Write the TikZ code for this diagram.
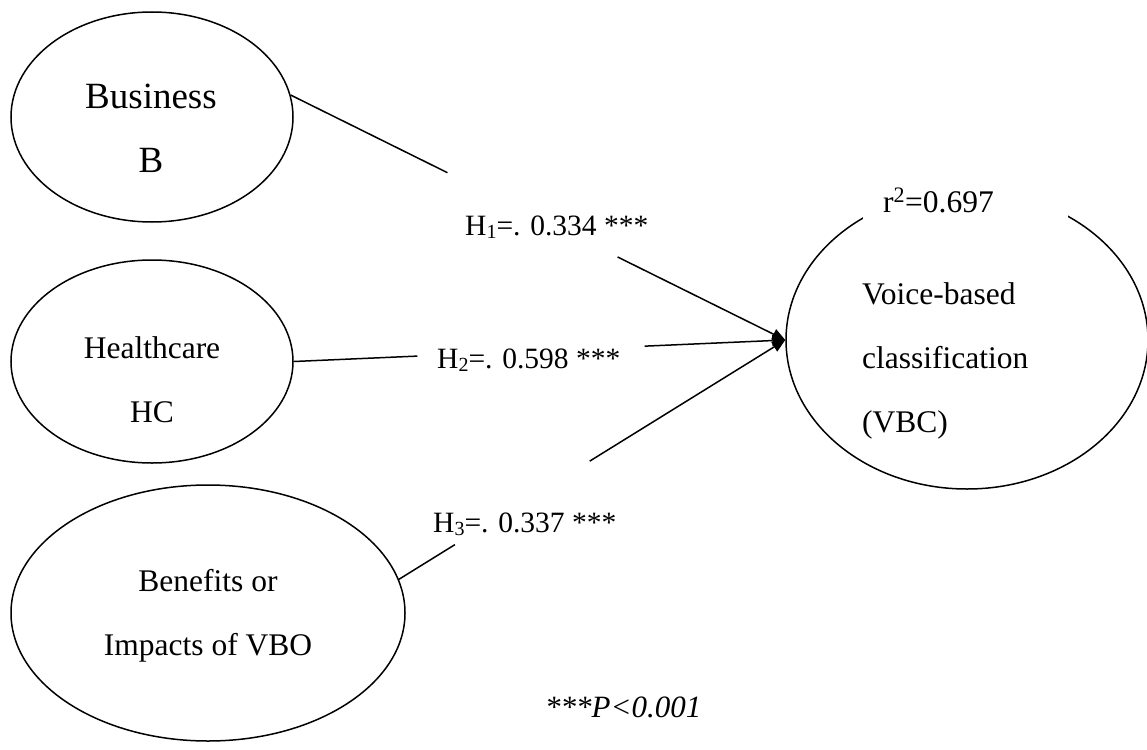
\documentclass[tikz,border=0pt]{standalone}
\usepackage{fontspec}
\setmainfont{Liberation Serif}
\usetikzlibrary{calc,arrows.meta,positioning,shapes.geometric}
\newcommand{\hsub}[1]{\raisebox{-0.12em}{\fontsize{20}{20}\selectfont #1}}
\tikzset{
  construct/.style={draw=black, line width=1.5pt, ellipse, inner sep=0pt},
  caption/.style={font=\fontsize{31.5}{64}\selectfont, align=center, inner sep=0pt, anchor=base},
  link/.style={line width=1.5pt},
  effect/.style={link, -{Triangle[length=13pt, width=11pt]}},
  coef/.style={font=\fontsize{29.5}{36}\selectfont, anchor=base west, inner sep=0pt}
}

\begin{document}
\begin{tikzpicture}[x=1pt, y=-1pt]
  \useasboundingbox (0,0) rectangle (1147,749);
  % constructs
  \node[construct, minimum width=282pt, minimum height=210pt] (B) at (152,117) {};
  \node[construct, minimum width=282pt, minimum height=203pt] (HC) at (152,361.5) {};
  \node[construct, minimum width=394pt, minimum height=256pt] (BI) at (208,613) {};
  \node[construct, minimum width=362pt, minimum height=298pt] (VBC) at (967,340) {};
  % base of a multi-line caption = last line
  \node[caption, font=\fontsize{37}{64}\selectfont] (Btext) at (151,172) {Business\\B};
  \node[caption] (HCtext) at (152,422) {Healthcare\\HC};
  \node[caption] (BItext) at (208,655) {Benefits or\\Impacts of VBO};
  \node[caption, align=left, anchor=base west] (VBCtext) at (862,432) {Voice-based\\classification\\(VBC)};
  \node[fill=white, font=\fontsize{31.5}{36}\selectfont, text width=165pt, align=left, inner xsep=20pt,
        inner ysep=0pt, text height=29pt, text depth=10pt, anchor=base west] (rsq) at (863,212) {r\textsuperscript{2}=0.697};
  % path coefficients
  \node[coef] (H1) at (465,235) {H\hsub{1}=. 0.334 ***};
  \node[coef] (H2) at (437,368) {H\hsub{2}=. 0.598 ***};
  \node[coef] (H3) at (433,532) {H\hsub{3}=. 0.337 ***};
  \coordinate (h1a) at ($(B.9)!0.317!(VBC.west)$);
  \coordinate (h1b) at ($(B.9)!0.661!(VBC.west)$);
  \coordinate (h2a) at ($(HC.east)!0.2515!(VBC.west)$);
  \coordinate (h2b) at ($(HC.east)!0.714!(VBC.west)$);
  \coordinate (h3a) at ($(BI.10)!0.145!(VBC.west)$);
  \coordinate (h3b) at ($(BI.10)!0.494!(VBC.west)$);
  \draw[link] (B.9) -- (h1a);
  \draw[effect] (h1b) -- (VBC.west);
  \draw[link] (HC.east) -- (h2a);
  \draw[effect] (h2b) -- (VBC.west);
  \draw[link] (BI.10) -- (h3a);
  \draw[effect] (h3b) -- (VBC.west);
  \node[font=\fontsize{31}{36}\selectfont\itshape, anchor=base west, inner sep=0pt] (sig) at (545,717) {***P<0.001};
\end{tikzpicture}
\end{document}
